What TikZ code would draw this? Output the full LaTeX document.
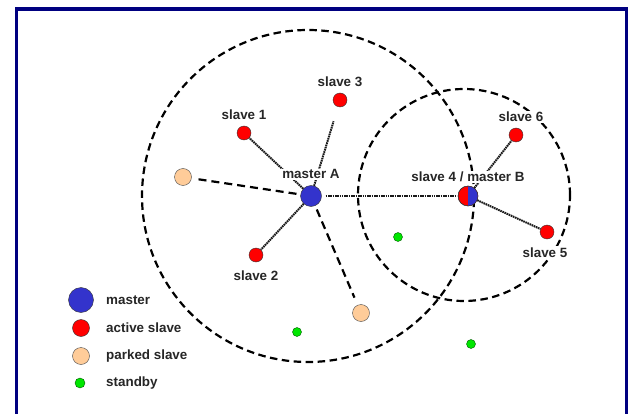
\documentclass[tikz,border=0pt]{standalone}
\usepackage{fontspec}
\setmainfont{Liberation Sans}
\usetikzlibrary{positioning}

\definecolor{framenavy}{RGB}{0,0,128}
\definecolor{masterblue}{RGB}{51,51,204}
\definecolor{parkedtan}{RGB}{255,204,153}
\definecolor{standbygreen}{RGB}{0,230,0}

\begin{document}
\begin{tikzpicture}[
    x=1pt, y=-1pt,
    master/.style={circle, draw=black!80, thin, fill=masterblue, inner sep=0pt, minimum size=21pt},
    active/.style={circle, draw=black!80, thin, fill=red, inner sep=0pt, minimum size=14pt},
    parked/.style={circle, draw=black!70, thin, fill=parkedtan, inner sep=0pt, minimum size=17pt},
    standby/.style={circle, draw=green!35!black, thin, fill=standbygreen, inner sep=0pt, minimum size=9pt},
    tag/.style={font=\fontsize{13.4}{15}\selectfont\bfseries, text=black!85, fill=white, inner sep=1pt},
    link/.style={draw=black!90, line width=2pt, dash pattern=on 1.6pt off 0.7pt},
    parklink/.style={draw=black, line width=2.2pt, dash pattern=on 8pt off 5pt},
    piconet/.style={draw=black, line width=2.2pt, dash pattern=on 7.5pt off 4.5pt}
]
\useasboundingbox (0,0) rectangle (628,414);
\fill[white] (0,0) rectangle (628,414);

% frame
\draw[framenavy, line width=3.5pt] (16.5,414) |- (626.5,9) -- (626.5,414);

% piconet ranges
\coordinate (cA) at (308,196);
\coordinate (cB) at (464,195);
\draw[piconet] (cA) circle[radius=166pt];
\draw[piconet] (cB) circle[radius=106pt];

% devices
\node[master] (mA) at (311,196) {};
\node[active, minimum size=20pt] (mB) at (468,196) {};
\begin{scope}
    \clip (mB.north) rectangle ([xshift=12pt]mB.south);
    \fill[masterblue] (mB.center) circle[radius=9.8pt];
\end{scope}
\draw[black!80, thin] (mB.center) circle[radius=10pt];

\node[active] (s1) at (244,133) {};
\node[active] (s2) at (256,255) {};
\node[active] (s3) at (340,100) {};
\node[active] (s5) at (547,232) {};
\node[active] (s6) at (516,135) {};

\node[parked] (p1) at (183,177) {};
\node[parked] (p2) at (361,313) {};

\node[standby] (b1) at (398,237) {};
\node[standby] (b2) at (297,332) {};
\node[standby] (b3) at (471,344) {};

% links
\draw[link] (mA) -- (s1);
\draw[link] (mA) -- (s2);
\draw[link, shorten >=15pt] (mA) -- (s3);
\draw[link, shorten <=4pt, shorten >=3pt] (mA) -- (mB);
\draw[link] (mB) -- (s5);
\draw[link] (mB) -- (s6);
\draw[parklink, shorten <=4pt, shorten >=6pt] (mA) -- (p1);
\draw[parklink, shorten <=4pt, shorten >=8pt] (mA) -- (p2);

% names
\node[tag, above=5pt of mA] (tA) {master A};
\node[tag, above=3pt of mB] (tB) {slave 4 / master B};
\node[tag, above=5pt of s1] (t1) {slave 1};
\node[tag, below=7pt of s2] (t2) {slave 2};
\node[tag, above=5pt of s3] (t3) {slave 3};
\node[tag, below=7pt of s5, xshift=-2pt] (t5) {slave 5};
\node[tag, above=5pt of s6, xshift=5pt] (t6) {slave 6};

% legend
\node[master, minimum size=25pt] (lm) at (81,300) {};
\node[active, minimum size=17pt] (la) at (81,328) {};
\node[parked] (lp) at (81,356) {};
\node[standby, minimum size=10pt] (ls) at (80,383) {};
\node[tag, anchor=west] (tm) at (105,300) {master};
\node[tag, anchor=west] (ta) at (105,328) {active slave};
\node[tag, anchor=west] (tp) at (105,356) {parked slave};
\node[tag, anchor=west] (ts) at (105,383) {standby};

\end{tikzpicture}
\end{document}
